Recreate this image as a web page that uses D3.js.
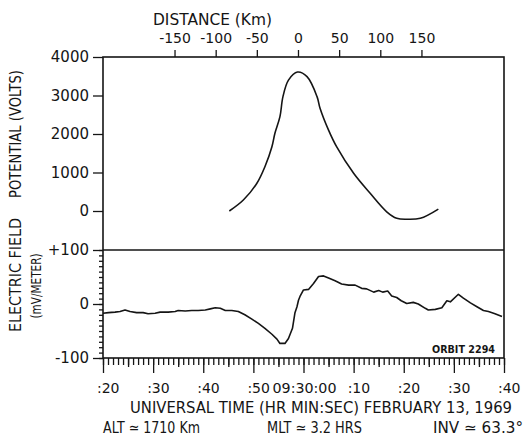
<!DOCTYPE html>
<html><head><meta charset="utf-8">
<script src="https://cdn.jsdelivr.net/npm/d3@7"></script>
<style>
body{margin:0;background:#fff}
svg{display:block}
text{font-family:"DejaVu Sans",sans-serif;fill:#151515}
</style>
</head><body>
<svg id="c" width="529" height="440"></svg>
<script>
// Time in seconds after 09:29:00 UT, February 13, 1969
const potentialTime  = [45.2, 48.0, 50.7, 52.3, 53.7, 54.3, 55.3, 55.9, 57.0, 58.8, 60.7, 62.7, 63.3, 65.0, 66.6, 70.0, 73.3, 76.6, 78.6, 80.6, 83.3, 86.9];
const potentialVolts = [0, 286, 720, 1150, 1670, 2020, 2450, 2970, 3400, 3610, 3490, 2970, 2670, 2100, 1670, 980, 460, -20, -190, -215, -190, 50];

const fieldTime  = [20.0, 21.1, 22.4, 23.4, 24.4, 25.4, 26.7, 28.0, 29.0, 30.4, 31.4, 33.0, 34.4, 35.0, 36.4, 37.7, 39.0, 40.4, 41.4, 42.4, 43.4, 44.4, 45.7, 47.0, 48.3, 49.7, 51.0, 52.3, 53.7, 54.7, 55.3, 56.3, 57.0, 57.8, 58.3, 58.7, 59.0, 59.3, 60.0, 61.0, 62.0, 63.0, 64.0, 65.0, 66.3, 67.6, 69.0, 70.3, 71.6, 72.6, 74.0, 75.0, 75.8, 76.8, 77.6, 78.6, 79.5, 80.6, 81.9, 82.9, 84.3, 84.9, 86.3, 87.6, 88.6, 89.3, 90.9, 91.9, 93.3, 94.6, 95.9, 96.9, 98.2, 99.6];
const fieldValue = [-17, -16, -15, -14, -11, -14, -16, -16, -18, -17, -15, -15, -14, -12, -13, -12, -12, -11, -9, -7, -8, -12, -12, -14, -20, -28, -36, -45, -56, -65, -73, -73, -64, -45, -16, -5, 7, 14, 26, 27, 38, 51, 52, 48, 43, 37, 35, 35, 29, 28, 22, 25, 22, 24, 15, 12, 6, 1, 3, 0, -8, -11, -10, -7, 6, 4, 18, 11, 2, -5, -12, -14, -18, -23];

const timeTicks = [20, 30, 40, 50, 60, 70, 80, 90, 100];
const timeTickLabels = [":20", ":30", ":40", ":50", "09:30:00", ":10", ":20", ":30", ":40"];
const distanceTicks = [-150, -100, -50, 0, 50, 100, 150];
const potentialTicks = [0, 1000, 2000, 3000, 4000];
const fieldTicks = [-100, 0, 100];
const fieldTickLabels = ["-100", "0", "+100"];

// distance calibration: 0 km at 09:29:58.9, ~6.09 km per second
const distanceZeroTime = 58.9;
const kmPerSecond = 6.09;

const svg = d3.select("#c");
const L = 103, R = 504, T = 57, MID = 250, B = 358;

const x = d3.scaleLinear().domain([20, 100]).range([L, R]);
const dist = d3.scaleLinear()
  .domain([(20 - distanceZeroTime) * kmPerSecond, (100 - distanceZeroTime) * kmPerSecond])
  .range([L, R]);
const yV = d3.scaleLinear().domain([0, 4000]).range([211, T]);
const yE = d3.scaleLinear().domain([-100, 100]).range([B, MID]);

const stroke = "#151515";

function clean(g){ g.select(".domain").remove(); g.selectAll("line").attr("stroke", stroke).attr("stroke-width", 1.3); }

// top distance axis
svg.append("g").attr("transform", `translate(0,${T})`)
  .call(d3.axisTop(dist).tickValues(distanceTicks).tickSize(7).tickPadding(7).tickFormat(d => String(d)))
  .call(clean)
  .call(g => g.selectAll("text").attr("font-size", 14).attr("font-family", "DejaVu Sans").attr("fill", stroke));

// left potential axis
svg.append("g").attr("transform", `translate(${L},0)`)
  .call(d3.axisLeft(yV).tickValues(potentialTicks).tickSize(10).tickPadding(4).tickFormat(d => String(d)))
  .call(clean)
  .call(g => g.selectAll("text").attr("font-size", 15).attr("font-family", "DejaVu Sans").attr("fill", stroke));

// left field axis (minor + major)
svg.append("g").attr("transform", `translate(${L},0)`)
  .call(d3.axisLeft(yE).tickValues(d3.range(-100, 101, 10)).tickSize(4).tickFormat(""))
  .call(clean);
svg.append("g").attr("transform", `translate(${L},0)`)
  .call(d3.axisLeft(yE).tickValues(fieldTicks).tickSize(10).tickPadding(4).tickFormat((d, i) => fieldTickLabels[i]))
  .call(clean)
  .call(g => g.selectAll("text").attr("font-size", 15).attr("font-family", "DejaVu Sans").attr("fill", stroke));

// bottom time axis
svg.append("g").attr("transform", `translate(0,${B})`)
  .call(d3.axisBottom(x).tickValues(d3.range(20, 101, 1)).tickSize(7).tickFormat(""))
  .call(clean);
svg.append("g").attr("transform", `translate(0,${B})`)
  .call(d3.axisBottom(x).tickValues(d3.range(25, 100, 10)).tickSize(9).tickFormat(""))
  .call(clean);
svg.append("g").attr("transform", `translate(0,${B})`)
  .call(d3.axisBottom(x).tickValues(timeTicks).tickSize(15).tickFormat(""))
  .call(clean);
svg.append("g").selectAll("text").data(timeTicks).join("text")
  .attr("x", (d, i) => timeTickLabels[i].length > 3 ? x(d) + 1 : x(d) - 6)
  .attr("y", 393)
  .attr("text-anchor", (d, i) => timeTickLabels[i].length > 3 ? "middle" : "start")
  .attr("font-size", 14)
  .each(function(d, i){ if (timeTickLabels[i].length > 3) d3.select(this).attr("textLength", 64).attr("lengthAdjust", "spacingAndGlyphs"); })
  .text((d, i) => timeTickLabels[i]);

// frame
const fr = svg.append("g").attr("stroke", stroke).attr("stroke-width", 1.6).attr("fill", "none");
fr.append("rect").attr("x", L).attr("y", T).attr("width", R - L).attr("height", B - T);
fr.append("line").attr("x1", L).attr("x2", R).attr("y1", MID).attr("y2", MID);

// curves
svg.append("path")
  .datum(potentialTime.map((t, i) => [t, potentialVolts[i]]))
  .attr("fill", "none").attr("stroke", stroke).attr("stroke-width", 1.6)
  .attr("d", d3.line().x(d => x(d[0])).y(d => yV(d[1])).curve(d3.curveCatmullRom));

svg.append("path")
  .datum(fieldTime.map((t, i) => [t, fieldValue[i]]))
  .attr("fill", "none").attr("stroke", stroke).attr("stroke-width", 1.6).attr("stroke-linejoin", "round")
  .attr("d", d3.line().x(d => x(d[0])).y(d => yE(d[1])));

// texts
function txt(s, xx, yy, size, len, extra) {
  const t = svg.append("text").attr("x", xx).attr("y", yy).attr("font-size", size).text(s);
  if (len) t.attr("textLength", len).attr("lengthAdjust", "spacingAndGlyphs");
  if (extra) extra(t);
  return t;
}
txt("DISTANCE (Km)", 153, 25, 15, 119);
txt("UNIVERSAL TIME (HR MIN:SEC) FEBRUARY 13, 1969", 130, 413, 15, 382);
txt("ALT \u2243 1710 Km", 103, 433, 15, 97);
txt("MLT \u2243 3.2 HRS", 267, 433, 15, 95);
txt("INV \u2243 63.3\u00B0", 433, 433, 15, 90);
txt("ORBIT 2294", 432, 353, 10, 63, t => t.attr("font-weight", "bold"));

svg.append("text").attr("transform", "translate(21,134) rotate(-90)")
  .attr("text-anchor", "middle").attr("font-size", 15)
  .attr("textLength", 128).attr("lengthAdjust", "spacingAndGlyphs").text("POTENTIAL (VOLTS)");
svg.append("text").attr("transform", "translate(21,275) rotate(-90)")
  .attr("text-anchor", "middle").attr("font-size", 15)
  .attr("textLength", 114).attr("lengthAdjust", "spacingAndGlyphs").text("ELECTRIC FIELD");
svg.append("text").attr("transform", "translate(41,286) rotate(-90)")
  .attr("text-anchor", "middle").attr("font-size", 14)
  .attr("textLength", 65).attr("lengthAdjust", "spacingAndGlyphs").text("(mV/METER)");
</script>
</body></html>
